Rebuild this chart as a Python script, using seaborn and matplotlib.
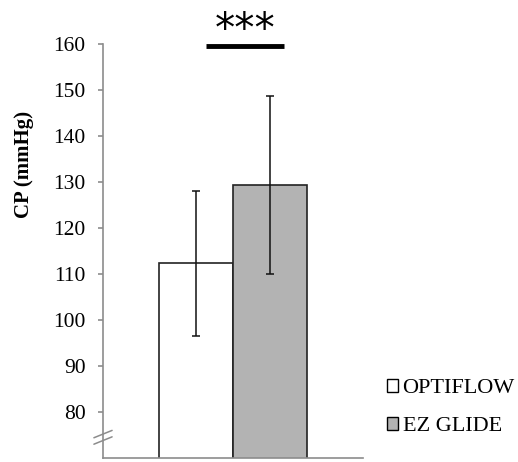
import numpy as np
import pandas as pd
import matplotlib.pyplot as plt
import seaborn as sns

devices = ['OPTIFLOW', 'EZ GLIDE']
cp_mean = [112.3, 129.3]
cp_sd = [15.8, 19.4]
bar_colors = ['#ffffff', '#b3b3b3']
y_ticks = [80, 90, 100, 110, 120, 130, 140, 150, 160]


def main():
    sns.set_style('white')
    plt.rcParams['font.family'] = ['Liberation Serif', 'DejaVu Serif']
    plt.rcParams['text.color'] = 'black'

    df = pd.DataFrame({'group': [''] * len(devices), 'device': devices, 'cp': cp_mean})

    fig = plt.figure(figsize=(5.18, 4.62), dpi=100)
    ax = fig.add_axes([103 / 518, 4 / 462, 260 / 518, 414 / 462])

    sns.barplot(data=df, x='group', y='cp', hue='device', hue_order=devices,
                palette=bar_colors, width=0.57, edgecolor='#222222', linewidth=1.2,
                ax=ax, legend=False)

    # error bars at bar centers
    for patch, m, s in zip(ax.patches, cp_mean, cp_sd):
        xc = patch.get_x() + patch.get_width() / 2
        ax.errorbar(xc, m, yerr=s, fmt='none', ecolor='#111111', elinewidth=1.1,
                    capsize=3, capthick=1.1)

    ax.set_ylim(70, 160)
    ax.set_xlim(-0.5, 0.5)
    ax.set_yticks(y_ticks)
    ax.set_yticklabels([str(t) for t in y_ticks], fontsize=15.5, color='black')
    ax.set_xticks([])
    ax.set_xlabel('')
    ax.set_ylabel('CP (mmHg)', fontsize=15, fontweight='bold', color='black')
    ax.yaxis.set_label_coords(-0.265, 0.708)

    for side in ['top', 'right']:
        ax.spines[side].set_visible(False)
    for side in ['left', 'bottom']:
        ax.spines[side].set_color('#8c8c8c')
        ax.spines[side].set_linewidth(1.2)
    ax.tick_params(axis='y', which='both', left=True, length=3.6, width=1.2,
                   color='#8c8c8c', pad=9)

    # axis break marks
    for dy in [0, 1.4]:
        ax.plot([-0.535, -0.465], [73.0 + dy, 74.6 + dy], color='#8c8c8c',
                lw=1.1, clip_on=False)

    # significance bar
    p0 = ax.patches[0]
    p1 = ax.patches[1]
    x0 = p0.get_x() + p0.get_width() * 0.63
    x1 = p1.get_x() + p1.get_width() * 0.69
    ax.plot([x0, x1], [159.6, 159.6], color='black', lw=3.5, clip_on=False,
            solid_capstyle='butt')
    ax.text((x0 + x1) / 2, 162.9, '***', fontsize=29, color='black',
            ha='center', va='center', family='DejaVu Sans', clip_on=False)

    handles = [plt.Rectangle((0, 0), 1, 1, facecolor=c, edgecolor='black', lw=1)
               for c in bar_colors]
    fig.legend(handles, devices, loc='upper left', bbox_to_anchor=(387 / 518, 1 - 379 / 462),
               frameon=False, fontsize=16, handlelength=0.5, handleheight=0.5,
               handletextpad=0.2, labelspacing=0.85, borderaxespad=0, borderpad=0)

    fig.savefig('out.png', dpi=100)
    plt.close(fig)


if __name__ == '__main__':
    main()
